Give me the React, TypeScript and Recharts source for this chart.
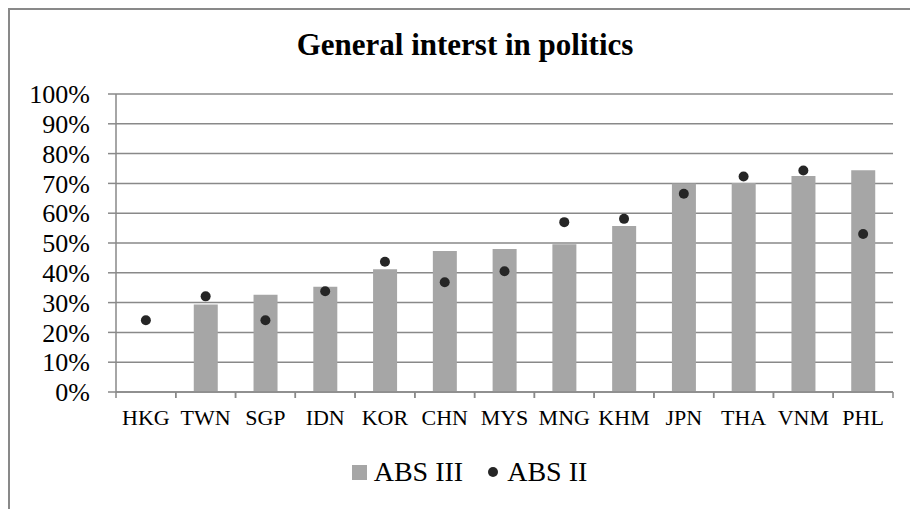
import React from 'react'
import { ComposedChart, Bar, Line, XAxis, YAxis, CartesianGrid, Legend } from 'recharts'

// values, in percent
const countries = ['HKG', 'TWN', 'SGP', 'IDN', 'KOR', 'CHN', 'MYS', 'MNG', 'KHM', 'JPN', 'THA', 'VNM', 'PHL']
const absIII: (number | null)[] = [null, 29.4, 32.6, 35.3, 41.2, 47.3, 48.0, 49.6, 55.7, 70.0, 70.1, 72.5, 74.4]
const absII = [24.1, 32.1, 24.1, 33.8, 43.7, 36.8, 40.5, 57.0, 58.1, 66.5, 72.3, 74.3, 53.0]
const yTicks = [0, 10, 20, 30, 40, 50, 60, 70, 80, 90, 100]

const W = 910
const H = 509
const PLOT_LEFT = 116
const RIGHT = 17
const FONT = '"Liberation Serif", "Times New Roman", serif'
const BAR = '#A6A6A6'
const DOT = '#262626'
const LINE = '#898989'
const BAND = (W - PLOT_LEFT - RIGHT) / countries.length

const data = countries.map((c, i) => ({ country: c, abs3: absIII[i], abs2: absII[i] }))

if (typeof document !== 'undefined') document.body.style.margin = '0'

// category labels plus the boundary tick marks Excel draws between categories
const XTick = (props: any) => {
    const { x, y, payload } = props
    return (
        <g>
            <line x1={x - BAND / 2} x2={x - BAND / 2} y1={y} y2={y + 6} stroke={LINE} strokeWidth={1.5} />
            <line x1={x + BAND / 2} x2={x + BAND / 2} y1={y} y2={y + 6} stroke={LINE} strokeWidth={1.5} />
            <text x={x} y={y + 33} textAnchor="middle" fontSize={22} fill="#000" fontFamily={FONT}>
                {payload.value}
            </text>
        </g>
    )
}

const LegendBox = () => (
    <div
        style={{
            height: 40,
            width: W,
            boxSizing: 'border-box',
            paddingLeft: 29,
            display: 'flex',
            justifyContent: 'center',
            alignItems: 'center',
            fontFamily: FONT,
            fontSize: 28,
            color: '#000',
        }}
    >
        <span style={{ width: 15, height: 15, background: BAR, marginRight: 7 }} />
        <span>ABS III</span>
        <span style={{ width: 10, height: 10, borderRadius: 5, background: DOT, marginLeft: 25, marginRight: 9 }} />
        <span>ABS II</span>
    </div>
)

export default function App() {
    return (
        <div style={{ position: 'relative', width: W, height: H, overflow: 'hidden', background: '#fff' }}>
            {/* chart frame, cropped on the right and bottom like the reference */}
            <div
                style={{
                    position: 'absolute',
                    left: 8,
                    top: 8,
                    width: W,
                    height: H,
                    borderLeft: `2px solid ${LINE}`,
                    borderTop: `2px solid ${LINE}`,
                }}
            />
            <div
                style={{
                    position: 'absolute',
                    left: 0,
                    top: 29,
                    width: 930,
                    textAlign: 'center',
                    fontFamily: FONT,
                    fontSize: 31,
                    lineHeight: '31px',
                    fontWeight: 'bold',
                    color: '#000',
                }}
            >
                General interst in politics
            </div>
            <ComposedChart width={W} height={H} data={data} margin={{ top: 94, right: RIGHT, left: 0, bottom: 17 }}>
                <CartesianGrid vertical={false} stroke={LINE} strokeWidth={1.5} />
                <XAxis
                    dataKey="country"
                    height={60}
                    interval={0}
                    tickSize={0}
                    tickMargin={0}
                    tickLine={false}
                    axisLine={{ stroke: LINE, strokeWidth: 1.5 }}
                    tick={<XTick />}
                />
                <YAxis
                    width={PLOT_LEFT}
                    domain={[0, 100]}
                    ticks={yTicks}
                    interval={0}
                    tickFormatter={(v: number) => `${v}%`}
                    tickSize={8}
                    tickMargin={18}
                    tickLine={{ stroke: LINE, strokeWidth: 1.5 }}
                    axisLine={{ stroke: LINE, strokeWidth: 1.5 }}
                    tick={{ fontSize: 26, fill: '#000', fontFamily: FONT }}
                />
                <Bar dataKey="abs3" name="ABS III" fill={BAR} barSize={24} isAnimationActive={false} />
                <Line
                    dataKey="abs2"
                    name="ABS II"
                    stroke="none"
                    dot={{ r: 5, fill: DOT, stroke: 'none' }}
                    activeDot={false}
                    isAnimationActive={false}
                />
                <Legend verticalAlign="bottom" wrapperStyle={{ left: 0, width: W, bottom: 17 }} content={() => <LegendBox />} />
            </ComposedChart>
        </div>
    )
}
